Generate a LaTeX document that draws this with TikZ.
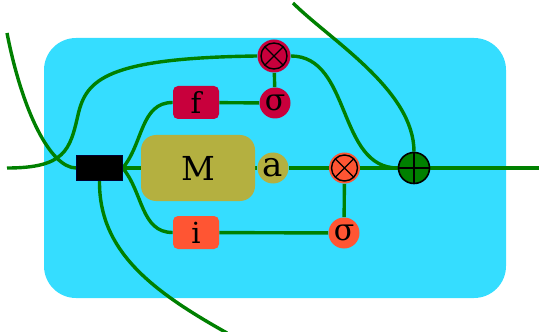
\documentclass[tikz,border=0pt]{standalone}
\usepackage{fontspec}
\setmainfont{DejaVu Serif}
\usetikzlibrary{positioning}

\definecolor{cellbg}{RGB}{53,221,255}
\definecolor{wiregreen}{RGB}{0,128,0}
\definecolor{forgetred}{RGB}{200,0,60}
\definecolor{inputred}{RGB}{255,85,51}
\definecolor{memolive}{RGB}{180,176,64}

\pgfdeclarelayer{bg}
\pgfsetlayers{bg,main}

\tikzset{
  wire/.style={draw=wiregreen, line width=1.7pt},
  gatebox/.style={rounded corners=2.5pt, minimum width=23pt, minimum height=16.5pt,
    inner sep=0pt, font=\fontsize{14.5}{14.5}\selectfont},
  op/.style={circle, minimum size=15.5pt, inner sep=0pt},
  sig/.style={op, font=\fontsize{15}{15}\selectfont},
  times/.style={op, path picture={
    \draw[line width=0.7pt] (path picture bounding box.center) circle (6.5pt);
    \draw[line width=0.7pt]
      ([shift={(45:6.5pt)}]path picture bounding box.center) -- ([shift={(225:6.5pt)}]path picture bounding box.center)
      ([shift={(135:6.5pt)}]path picture bounding box.center) -- ([shift={(-45:6.5pt)}]path picture bounding box.center);}},
  plus/.style={op, draw=black, line width=0.8pt, path picture={
    \draw[line width=0.7pt]
      ([shift={(0:7.5pt)}]path picture bounding box.center) -- ([shift={(180:7.5pt)}]path picture bounding box.center)
      ([shift={(90:7.5pt)}]path picture bounding box.center) -- ([shift={(-90:7.5pt)}]path picture bounding box.center);}},
}

\begin{document}
\begin{tikzpicture}[x=0.5pt, y=-0.5pt]
  \useasboundingbox (0,0) rectangle (539,331);

  %%%%% cell contents %%%%%
  \node[fill=black, draw=black!80!blue, line width=0.4pt, minimum width=22.8pt, minimum height=12.8pt, inner sep=0pt] (inp) at (99.5,168) {};

  \node[fill=memolive, rounded corners=7.5pt, minimum width=57pt, minimum height=33pt, inner sep=0pt,
        font=\fontsize{16.5}{16.5}\selectfont] (M) at (198,168) {M};
  \node[op, fill=memolive, font=\fontsize{17}{17}\selectfont] (a) at (273,168) {a};

  \node[gatebox, fill=forgetred] (f) at (196,102.5) {f};
  \node[sig, fill=forgetred] (sf) at (275,103) {σ};
  \node[times, fill=forgetred, minimum size=16.5pt] (mf) at (274,56) {};

  \node[gatebox, fill=inputred] (i) at (196,232.5) {i};
  \node[sig, fill=inputred] (si) at (344,233) {σ};
  \node[times, fill=inputred] (mi) at (344.5,168) {};

  \node[plus, fill=wiregreen] (add) at (414,168) {};

  % loose ends
  \coordinate (cin) at (7,168);
  \coordinate (hin) at (7,33);
  \coordinate (ctop) at (293,3);
  \coordinate (cout) at (539,168);
  \coordinate (hout) at (227,333);

  \begin{pgfonlayer}{bg}
    \fill[cellbg, rounded corners=16pt] (44,38) rectangle (506,298);

    \draw[wire] (cin) .. controls (65,168) and (70,150) .. (78,115)
                      .. controls (86,80) and (105,58) .. (mf.west);
    \draw[wire] (hin) .. controls (22,110) and (50,168) .. (inp.west);

    \draw[wire] (inp.east) to[out=50,in=180] (f.west);
    \draw[wire] (inp.east) -- (M.west);
    \draw[wire] (inp.east) to[out=-50,in=180] (i.west);
    \draw[wire] (inp.south) .. controls (99,250) and (150,290) .. (hout);

    \draw[wire] (f) -- (sf) -- (mf);
    \draw[wire] (i) -- (si) -- (mi);
    \draw[wire] (M) -- (a) -- (mi) -- (add) -- (cout);
    \draw[wire] (mf.east) to[out=0,in=180] (add.west);
    \draw[wire] (ctop) .. controls (330,40) and (414,90) .. (add.north);
  \end{pgfonlayer}
\end{tikzpicture}
\end{document}
